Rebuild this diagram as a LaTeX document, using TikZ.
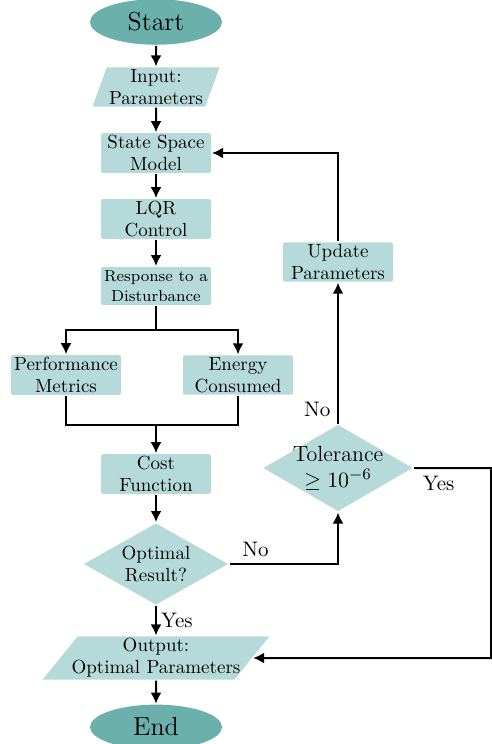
\documentclass[tikz,border=0pt]{standalone}
\usetikzlibrary{arrows,arrows.meta,shapes.geometric}
\definecolor{boxfill}{RGB}{182,218,218}
\definecolor{termfill}{RGB}{108,176,172}

\begin{document}
\begin{tikzpicture}[->,>={Latex[length=5.5pt,width=5.5pt]},line width=1pt,node distance=33pt,x=1pt,y=1pt]
  \tikzstyle{every node}=[font=\fontsize{9.5}{11}\selectfont]
  \tikzstyle{terminal}=[ellipse,fill=termfill,minimum width=66pt,minimum height=18pt,font=\fontsize{13}{15}\selectfont]
  \tikzstyle{process}=[rectangle,rounded corners=1pt,fill=boxfill,minimum width=55pt,minimum height=19pt,inner sep=1pt,align=center]
  \tikzstyle{io}=[trapezium,trapezium left angle=70,trapezium right angle=110,trapezium stretches body,fill=boxfill,inner sep=1pt,align=center]
  \tikzstyle{decision}=[diamond,fill=boxfill,inner sep=0pt,align=center]
  \tikzstyle{answer}=[font=\fontsize{10.5}{12}\selectfont]

  \useasboundingbox (0,0) rectangle (246,-372);

  \node[terminal] (start) at (78,-11) {Start};
  \node[io,minimum width=63.5pt,minimum height=19pt] (input) [below of=start,node distance=32.5pt] {Input:\\Parameters};
  \node[process] (ssm)  [below of=input] {State Space\\Model};
  \node[process] (lqr)  [below of=ssm] {LQR\\Control};
  \node[process,font=\fontsize{8}{10}\selectfont] (resp) [below of=lqr,node distance=33.5pt] {Response to a\\Disturbance};
  \node[process] (perf)   at (33,-187.5) {Performance\\Metrics};
  \node[process] (energy) at (119,-187.5) {Energy\\Consumed};
  \node[process] (cost)   at (78,-237) {Cost\\Function};
  \node[decision,aspect=1.77,minimum width=72.5pt,minimum height=41pt] (opt) [below of=cost,node distance=45pt] {Optimal\\Result?};
  \node[io,trapezium left angle=51,trapezium right angle=129,inner xsep=-3pt,minimum height=20pt] (output) [below of=opt,node distance=47pt] {Output:\\Optimal Parameters};
  \node[terminal] (end) [below of=output,node distance=34.5pt] {End};
  \node[decision,aspect=1.72,inner sep=-3pt,font=\fontsize{11}{13}\selectfont,minimum width=75pt,minimum height=43.5pt] (tol) at (169,-234) {Tolerance\\$\geq 10^{-6}$};
  \node[process] (update) at (169,-131) {Update\\Parameters};

  \coordinate (split) at (78,-165);
  \coordinate (join)  at (78,-212.5);
  \coordinate (rim)   at (245.5,-329);

  \path (start)  edge (input)
        (input)  edge (ssm)
        (ssm)    edge (lqr)
        (lqr)    edge (resp)
        (join)   edge (cost)
        (cost)   edge (opt)
        (opt)    edge node[answer,right,inner sep=2pt] {Yes} (output)
        (output) edge (end);

  \draw[-] (resp) -- (split);
  \draw (split) -| (perf);
  \draw (split) -| (energy);
  \draw[-] (perf) |- (join);
  \draw[-] (energy) |- (join);

  \draw (opt) -| node[answer,pos=0.12,above] {No} (tol);
  \draw (tol) -- node[answer,pos=0.1,left] {No} (update);
  \draw (update) |- (ssm);
  \draw (tol) -| node[answer,pos=0.16,below] {Yes} (rim) -- (output);
\end{tikzpicture}
\end{document}
